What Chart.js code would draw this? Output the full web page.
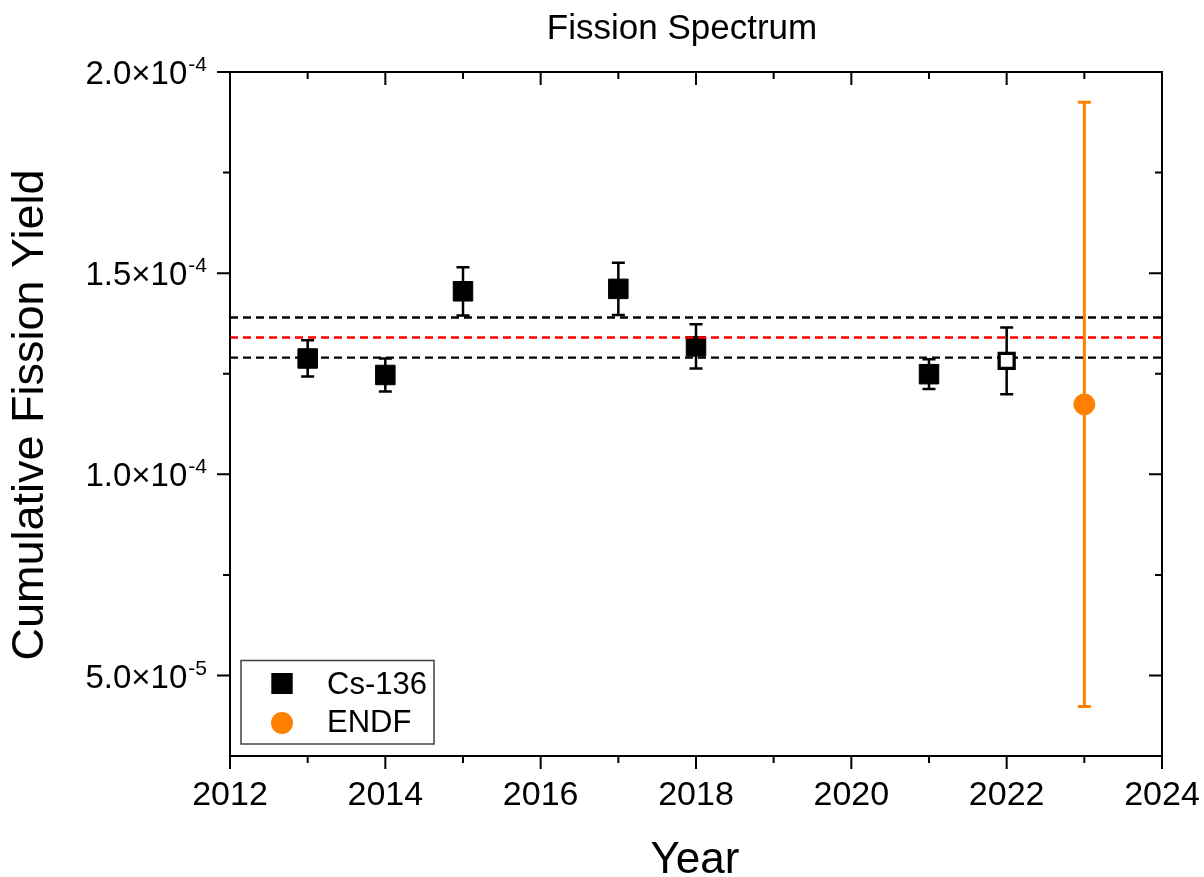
<!DOCTYPE html>
<html>
<head>
<meta charset="utf-8">
<title>Fission Spectrum</title>
<script src="https://cdn.jsdelivr.net/npm/chart.js@4.4.1/dist/chart.umd.min.js"></script>
<style>
  html, body { margin: 0; padding: 0; background: #ffffff; }
  canvas { display: block; }
</style>
</head>
<body>
<canvas id="chart" width="1204" height="877"></canvas>
<script>
// Cs-136 cumulative fission yields by publication year
const csYears = [2013, 2014, 2015, 2017, 2018, 2021];
const csYield = [1.288e-4, 1.247e-4, 1.455e-4, 1.461e-4, 1.318e-4, 1.249e-4];
const csError = [0.045e-4, 0.041e-4, 0.060e-4, 0.065e-4, 0.055e-4, 0.037e-4];

// Newest measurement (drawn as an open square)
const newYears = [2022];
const newYield = [1.282e-4];
const newError = [0.083e-4];

// Evaluated library value
const endfYears = [2023];
const endfYield = [1.174e-4];
const endfError = [0.751e-4];

// Weighted mean and its band
const meanYield = 1.340e-4;
const bandUpper = 1.390e-4;
const bandLower = 1.290e-4;

// Axis ranges and tick values
const xRange = [2012, 2024];
const yRange = [3.0e-5, 2.0e-4];
const xMajorTicks = [2012, 2014, 2016, 2018, 2020, 2022, 2024];
const xMinorTicks = [2013, 2015, 2017, 2019, 2021, 2023];
const yMajorTicks = [5.0e-5, 1.0e-4, 1.5e-4, 2.0e-4];
const yMajorMantissa = ['5.0', '1.0', '1.5', '2.0'];
const yMajorExponent = ['-5', '-4', '-4', '-4'];
const yMinorTicks = [7.5e-5, 1.25e-4, 1.75e-4];

const chartTitle = 'Fission Spectrum';
const xTitle = 'Year';
const yTitle = 'Cumulative Fission Yield';
const legendLabels = ['Cs-136', 'ENDF'];

const ORANGE = '#ff8000';
const FONT = '"Liberation Sans", Arial, Helvetica, sans-serif';

const toPoints = (xs, ys) => xs.map((x, i) => ({ x: x, y: ys[i] }));
const flatLine = (v) => [{ x: xRange[0], y: v }, { x: xRange[1], y: v }];

// Vertical error bars with caps
function drawErrorBars(ctx, xs, ys, es, sx, sy, color, width) {
  ctx.save();
  ctx.strokeStyle = color;
  ctx.lineWidth = width;
  ctx.lineCap = 'butt';
  const cap = 6.5;
  xs.forEach((x, i) => {
    const px = sx.getPixelForValue(x);
    const top = sy.getPixelForValue(ys[i] + es[i]);
    const bot = sy.getPixelForValue(ys[i] - es[i]);
    ctx.beginPath();
    ctx.moveTo(px, top); ctx.lineTo(px, bot);
    ctx.moveTo(px - cap, top); ctx.lineTo(px + cap, top);
    ctx.moveTo(px - cap, bot); ctx.lineTo(px + cap, bot);
    ctx.stroke();
  });
  ctx.restore();
}

const decor = {
  id: 'decor',
  beforeDatasetsDraw(chart) {
    const { ctx, scales: { x, y } } = chart;
    drawErrorBars(ctx, csYears, csYield, csError, x, y, '#000000', 2.5);
    drawErrorBars(ctx, newYears, newYield, newError, x, y, '#000000', 2.5);
    drawErrorBars(ctx, endfYears, endfYield, endfError, x, y, ORANGE, 3);
  },
  afterDraw(chart) {
    const { ctx, chartArea: a, scales: { x, y } } = chart;
    ctx.save();
    ctx.strokeStyle = '#000000';
    ctx.fillStyle = '#000000';
    ctx.lineWidth = 2;

    // frame
    ctx.strokeRect(a.left, a.top, a.right - a.left, a.bottom - a.top);

    // tick marks: outward on left/bottom, inward on right/top
    const major = 13, minor = 7;
    ctx.beginPath();
    const xt = (v, len) => {
      const p = x.getPixelForValue(v);
      ctx.moveTo(p, a.bottom); ctx.lineTo(p, a.bottom + len);
      ctx.moveTo(p, a.top); ctx.lineTo(p, a.top + len);
    };
    const yt = (v, len) => {
      const p = y.getPixelForValue(v);
      ctx.moveTo(a.left, p); ctx.lineTo(a.left - len, p);
      ctx.moveTo(a.right, p); ctx.lineTo(a.right - len, p);
    };
    xMajorTicks.forEach(v => xt(v, major));
    xMinorTicks.forEach(v => xt(v, minor));
    yMajorTicks.forEach(v => yt(v, major));
    yMinorTicks.forEach(v => yt(v, minor));
    ctx.stroke();

    // x tick labels
    ctx.font = '34px ' + FONT;
    ctx.textAlign = 'center';
    ctx.textBaseline = 'alphabetic';
    xMajorTicks.forEach(v => ctx.fillText(String(v), x.getPixelForValue(v), 805));

    // y tick labels in scientific notation with superscript exponent
    const rightEdge = 207;
    yMajorTicks.forEach((v, i) => {
      const p = y.getPixelForValue(v);
      ctx.font = '21px ' + FONT;
      ctx.textAlign = 'right';
      const expW = ctx.measureText(yMajorExponent[i]).width;
      ctx.fillText(yMajorExponent[i], rightEdge, p - 1);
      ctx.font = '33px ' + FONT;
      ctx.fillText(yMajorMantissa[i] + '\u00d710', rightEdge - expW - 1, p + 12);
    });

    // chart title
    ctx.font = '35px ' + FONT;
    ctx.textAlign = 'center';
    ctx.fillText(chartTitle, 682, 39);

    // axis titles
    ctx.font = '44px ' + FONT;
    ctx.fillText(xTitle, (a.left + a.right) / 2 - 1, 873);
    ctx.save();
    ctx.translate(43, (a.top + a.bottom) / 2 + 1);
    ctx.rotate(-Math.PI / 2);
    ctx.font = '45px ' + FONT;
    ctx.fillText(yTitle, 0, 0);
    ctx.restore();

    // legend
    ctx.lineWidth = 1.5;
    ctx.strokeStyle = '#404040';
    ctx.strokeRect(241, 660.5, 193, 83.5);
    const sq = chart.data.datasets[0];
    const dot = chart.data.datasets[5];
    Chart.helpers.drawPoint(ctx, {
      pointStyle: 'rect', radius: sq.pointRadius, borderWidth: sq.borderWidth
    }, 282, 683.5);
    ctx.fillStyle = '#000000'; ctx.strokeStyle = '#000000';
    ctx.fill(); ctx.stroke();
    ctx.beginPath();
    ctx.fillStyle = ORANGE; ctx.strokeStyle = ORANGE; ctx.lineWidth = 1;
    ctx.arc(282, 723, dot.pointRadius + 0.5, 0, Math.PI * 2);
    ctx.fill();
    ctx.fillStyle = '#000000';
    ctx.font = '31px ' + FONT;
    ctx.textAlign = 'left';
    ctx.fillText(legendLabels[0], 327, 694);
    ctx.fillText(legendLabels[1], 327, 732);
    ctx.restore();
  }
};

new Chart(document.getElementById('chart'), {
  type: 'scatter',
  data: {
    datasets: [
      {
        label: legendLabels[0],
        data: toPoints(csYears, csYield),
        pointStyle: 'rect',
        pointRadius: 13.8,
        borderWidth: 1,
        backgroundColor: '#000000',
        borderColor: '#000000',
        order: 5
      },
      {
        label: 'upper',
        data: flatLine(bandUpper),
        showLine: true, pointRadius: 0,
        borderColor: '#000000', borderWidth: 2.4, borderDash: [8, 5],
        order: 4
      },
      {
        label: 'lower',
        data: flatLine(bandLower),
        showLine: true, pointRadius: 0,
        borderColor: '#000000', borderWidth: 2.4, borderDash: [8, 5],
        order: 4
      },
      {
        label: 'mean',
        data: flatLine(meanYield),
        showLine: true, pointRadius: 0,
        borderColor: '#ff0000', borderWidth: 2.4, borderDash: [8, 5],
        order: 4
      },
      {
        label: legendLabels[0] + ' (new)',
        data: toPoints(newYears, newYield),
        pointStyle: 'rect',
        pointRadius: 10.6,
        borderWidth: 3.3,
        backgroundColor: '#ffffff',
        borderColor: '#000000',
        order: 2
      },
      {
        label: legendLabels[1],
        data: toPoints(endfYears, endfYield),
        pointStyle: 'circle',
        pointRadius: 10.5,
        borderWidth: 1,
        backgroundColor: ORANGE,
        borderColor: ORANGE,
        order: 1
      }
    ]
  },
  options: {
    responsive: false,
    devicePixelRatio: 1,
    animation: false,
    events: [],
    layout: { padding: { top: 72, right: 42, left: 0, bottom: 0 } },
    plugins: {
      legend: { display: false },
      title: { display: false },
      tooltip: { enabled: false }
    },
    scales: {
      x: {
        type: 'linear',
        min: xRange[0], max: xRange[1],
        grid: { display: false },
        border: { display: false },
        ticks: { display: false },
        afterFit(s) { s.height = 121; s.paddingLeft = 0; s.paddingRight = 0; }
      },
      y: {
        type: 'linear',
        min: yRange[0], max: yRange[1],
        grid: { display: false },
        border: { display: false },
        ticks: { display: false },
        afterFit(s) { s.width = 230; s.paddingTop = 0; s.paddingBottom = 0; }
      }
    }
  },
  plugins: [decor]
});
</script>
</body>
</html>
